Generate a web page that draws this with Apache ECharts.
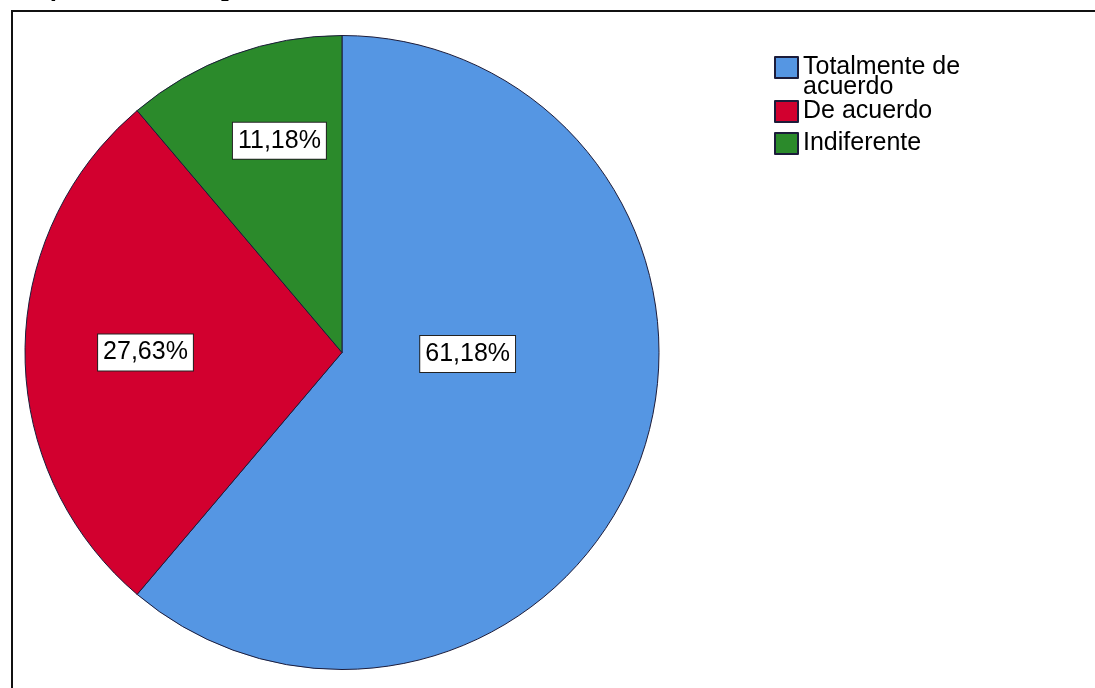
<!DOCTYPE html>
<html>
<head>
<meta charset="utf-8">
<script src="https://cdn.jsdelivr.net/npm/echarts@6/dist/echarts.min.js"></script>
<style>
  html, body { margin: 0; padding: 0; background: #ffffff; }
  #chart { width: 1095px; height: 688px; }
</style>
</head>
<body>
<div id="chart"></div>
<script>
// Response categories and respondent counts
const categories = ['Totalmente de acuerdo', 'De acuerdo', 'Indiferente'];
const counts = [93, 42, 17];
const percentLabels = ['61,18%', '27,63%', '11,18%'];
const sliceColors = ['#5596e3', '#d2002f', '#2b8a2b'];
const chartTitle = 'Gráfico 14. Uso de procesos';

// Nudges for the boxed percentage labels, relative to the default inside spot
const labelShift = [[-26, -54], [-35, 0], [-7, -60]];

const chart = echarts.init(document.getElementById('chart'), null, { renderer: 'canvas' });

const pieData = categories.map((name, i) => ({
  name: name,
  value: counts[i],
  itemStyle: { color: sliceColors[i] }
}));

const legendText = {
  fontFamily: 'Liberation Sans',
  fontSize: 25,
  lineHeight: 20,
  color: '#000'
};

const legendBase = {
  orient: 'vertical',
  left: 769,
  icon: 'rect',
  itemWidth: 23,
  itemHeight: 21,
  itemGap: 7,
  selectedMode: false,
  textStyle: legendText
};

chart.setOption({
  backgroundColor: '#ffffff',
  animation: false,
  graphic: [
    {
      type: 'text',
      left: 8,
      top: -25,
      style: {
        text: chartTitle,
        font: 'italic bold 27px "Liberation Serif"',
        fill: '#000'
      }
    },
    {
      type: 'rect',
      shape: { x: 12, y: 11, width: 1100, height: 700 },
      style: { fill: 'none', stroke: '#111', lineWidth: 2 }
    }
  ],
  legend: [
    // first entry wraps onto two lines; a blank lead line keeps its swatch beside the first line
    Object.assign({}, legendBase, {
      top: 30,
      formatter: () => '\nTotalmente de\nacuerdo',
      data: [categories[0]]
    }),
    Object.assign({}, legendBase, {
      top: 94,
      data: categories.slice(1)
    })
  ],
  series: [{
    type: 'pie',
    center: [342, 352.5],
    radius: 317,
    startAngle: 90,
    clockwise: true,
    data: pieData,
    itemStyle: { borderColor: '#1c1c3a', borderWidth: 1 },
    emphasis: { disabled: true },
    label: {
      show: true,
      position: 'inside',
      formatter: p => percentLabels[p.dataIndex],
      fontFamily: 'Liberation Sans',
      fontSize: 25,
      color: '#000',
      backgroundColor: '#ffffff',
      borderColor: '#222',
      borderWidth: 1,
      padding: [6, 5, 5, 5]
    },
    labelLine: { show: false },
    labelLayout: p => ({ dx: labelShift[p.dataIndex][0], dy: labelShift[p.dataIndex][1] })
  }]
});
</script>
</body>
</html>
